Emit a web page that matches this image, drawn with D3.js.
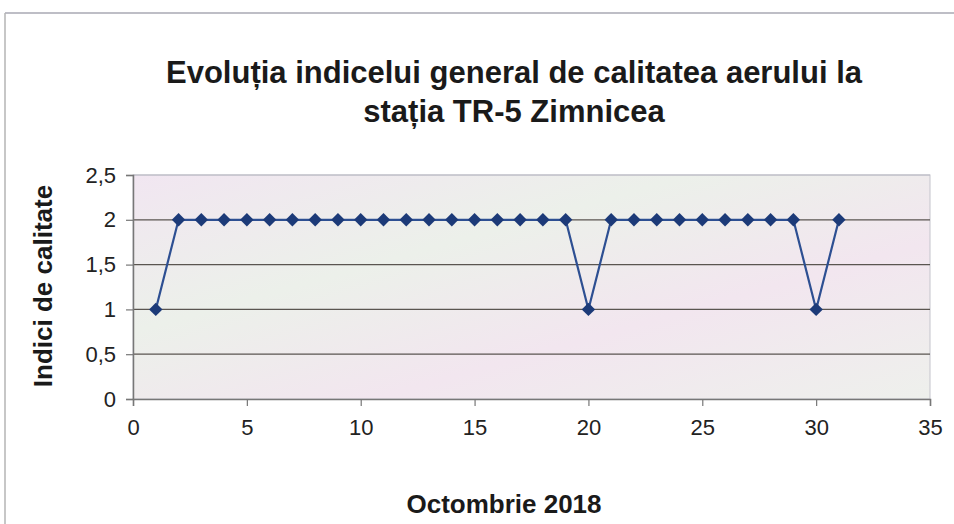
<!DOCTYPE html>
<html>
<head>
<meta charset="utf-8">
<script src="https://cdn.jsdelivr.net/npm/d3@7"></script>
<style>
  body { margin: 0; background: #fff; }
  svg { display: block; font-family: "Liberation Sans", Arial, sans-serif; }
</style>
</head>
<body>
<svg id="chart" width="954" height="524"></svg>
<script>
// data
const days = d3.range(1, 32);
const indexValues = [1, 2, 2, 2, 2, 2, 2, 2, 2, 2, 2, 2, 2, 2, 2, 2, 2, 2, 2, 1,
                     2, 2, 2, 2, 2, 2, 2, 2, 2, 1, 2];
const xTicks = [0, 5, 10, 15, 20, 25, 30, 35];
const yTicks = [0, 0.5, 1, 1.5, 2, 2.5];
const titleLines = ["Evoluția indicelui general de calitatea aerului la", "stația TR-5 Zimnicea"];

const svg = d3.select("#chart"),
  margin = { top: 175, right: 24, bottom: 125, left: 133 },
  width = +svg.attr("width") - margin.left - margin.right,
  height = +svg.attr("height") - margin.top - margin.bottom;

// outer frame
svg.append("line").attr("x1", 5).attr("x2", 954).attr("y1", 13).attr("y2", 13)
  .attr("stroke", "#a9a9b3").attr("stroke-width", 1.5);
svg.append("line").attr("x1", 5).attr("x2", 5).attr("y1", 13).attr("y2", 524)
  .attr("stroke", "#b5b5b5").attr("stroke-width", 1.5);

const defs = svg.append("defs");
const grad = defs.append("linearGradient").attr("id", "bg")
  .attr("x1", 0).attr("y1", 0).attr("x2", 1).attr("y2", 1);
grad.append("stop").attr("offset", "0%").attr("stop-color", "#f1e6f1");
grad.append("stop").attr("offset", "35%").attr("stop-color", "#ecf0ea");
grad.append("stop").attr("offset", "65%").attr("stop-color", "#f2e6ef");
grad.append("stop").attr("offset", "100%").attr("stop-color", "#eef0ec");

const g = svg.append("g").attr("transform", `translate(${margin.left},${margin.top})`);

const x = d3.scaleLinear().domain([0, 35]).range([0, width]);
const y = d3.scaleLinear().domain([0, 2.5]).range([height, 0]);

g.append("rect").attr("width", width).attr("height", height)
  .attr("fill", "url(#bg)").attr("stroke", "#c4c4cc").attr("stroke-width", 1);

// horizontal grid
g.append("g")
  .selectAll("line")
  .data(yTicks.slice(1))
  .enter()
  .append("line")
  .attr("x1", 0).attr("x2", width)
  .attr("y1", d => y(d)).attr("y2", d => y(d))
  .attr("stroke", d => d === 2.5 ? "#b9b9c4" : "#5a5550")
  .attr("stroke-width", 1.2);

const fmt = d => String(d).replace(".", ",");

// y axis
const yAxis = g.append("g")
  .call(d3.axisLeft(y).tickValues(yTicks).tickFormat(fmt).tickSize(7).tickPadding(10));
yAxis.select(".domain").attr("stroke", "#777").attr("stroke-width", 1.5);
yAxis.selectAll(".tick line").attr("stroke", "#777").attr("stroke-width", 1.2);
yAxis.selectAll("text").attr("font-size", 22).attr("fill", "#222");

// x axis
const xAxis = g.append("g")
  .attr("transform", `translate(0,${height})`)
  .call(d3.axisBottom(x).tickValues(xTicks).tickSize(7).tickPadding(13));
xAxis.select(".domain").attr("stroke", "#777").attr("stroke-width", 1.5);
xAxis.selectAll(".tick line").attr("stroke", "#777").attr("stroke-width", 1.2);
xAxis.selectAll("text").attr("font-size", 22).attr("fill", "#222");

// series line
const line = d3.line().x((d, i) => x(days[i])).y(d => y(d));
g.append("path")
  .datum(indexValues)
  .attr("fill", "none")
  .attr("stroke", "#2d4f92")
  .attr("stroke-width", 2.2)
  .attr("d", line);

// diamond markers
const diamond = d3.symbol().type(d3.symbolDiamond2).size(115);
g.append("g")
  .selectAll("path")
  .data(indexValues)
  .enter()
  .append("path")
  .attr("transform", (d, i) => `translate(${x(days[i])},${y(d)})`)
  .attr("d", diamond)
  .attr("fill", "#1c3a78");

// title
svg.append("g")
  .selectAll("text")
  .data(titleLines)
  .enter()
  .append("text")
  .attr("x", 514)
  .attr("y", (d, i) => 83 + i * 39)
  .attr("text-anchor", "middle")
  .attr("font-size", 31)
  .attr("font-weight", "bold")
  .attr("fill", "#1a1a1a")
  .text(d => d);

// axis titles
svg.append("text")
  .attr("transform", "translate(52,286) rotate(-90)")
  .attr("text-anchor", "middle")
  .attr("font-size", 26)
  .attr("font-weight", "bold")
  .attr("fill", "#1a1a1a")
  .text("Indici de calitate");

svg.append("text")
  .attr("x", 504)
  .attr("y", 513)
  .attr("text-anchor", "middle")
  .attr("font-size", 26)
  .attr("font-weight", "bold")
  .attr("fill", "#1a1a1a")
  .text("Octombrie 2018");
</script>
</body>
</html>
